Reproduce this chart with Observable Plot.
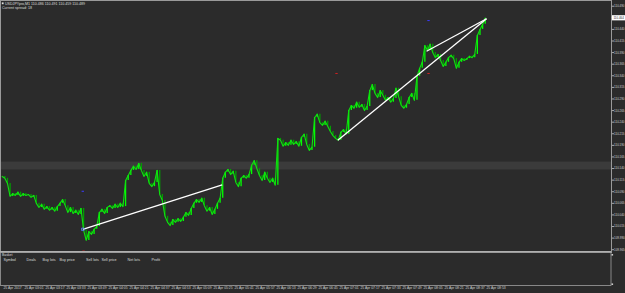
<!DOCTYPE html>
<html><head><meta charset="utf-8">
<script src="https://cdn.jsdelivr.net/npm/d3@7"></script>
<script src="https://cdn.jsdelivr.net/npm/@observablehq/plot@0.6"></script>
<style>
html,body{margin:0;padding:0;background:#2b2b2b;}
#chart{position:relative;width:625px;height:293px;overflow:hidden;background:#2b2b2b;}
</style></head><body><div id="chart"></div>
<script>
// ---- data (USDJPYpro, M1, 25 Apr 2017, sampled every 2 minutes from 02:45) ----
const symbolTitle = "USDJPYpro,M1 110.486 110.491 110.459 110.489";
const spreadText = "Current spread: 18";
const barStepMinutes = 2;
const closes = [
 110.123,110.119,110.108,110.080,110.086,110.082,110.089,110.080,110.086,110.082,
 110.084,110.078,110.082,110.065,110.056,110.063,110.052,110.058,110.050,110.056,
 110.048,110.058,110.065,110.073,110.060,110.045,110.056,110.043,110.050,110.041,
 110.054,110.007,109.985,110.004,109.998,110.009,110.015,110.045,110.052,110.043,
 110.056,110.060,110.054,110.063,110.056,110.065,110.058,110.114,110.125,110.136,
 110.145,110.138,110.151,110.136,110.123,110.132,110.108,110.101,110.110,110.136,
 110.084,110.071,110.037,110.024,110.017,110.030,110.024,110.032,110.026,110.035,
 110.045,110.039,110.054,110.065,110.073,110.067,110.076,110.060,110.048,110.056,
 110.041,110.052,110.065,110.076,110.119,110.132,110.138,110.127,110.134,110.110,
 110.101,110.119,110.125,110.119,110.127,110.147,110.157,110.140,110.125,110.114,
 110.132,110.119,110.110,110.119,110.104,110.205,110.201,110.188,110.196,110.190,
 110.201,110.192,110.198,110.188,110.207,110.214,110.192,110.179,110.186,110.250,
 110.257,110.239,110.233,110.242,110.231,110.220,110.211,110.205,110.201,110.218,
 110.224,110.214,110.265,110.276,110.270,110.283,110.272,110.278,110.265,110.274,
 110.308,110.321,110.302,110.293,110.308,110.298,110.287,110.293,110.283,110.291,
 110.313,110.295,110.276,110.270,110.278,110.293,110.302,110.287,110.339,110.356,
 110.369,110.405,110.395,110.408,110.390,110.379,110.386,110.373,110.360,110.369,
 110.379,110.384,110.377,110.356,110.369,110.377,110.373,110.377,110.382,110.379,
 110.386,110.427,110.440,110.451,110.464
];
const currentPrice = 110.464;
// time axis: minutes after 02:45 and their labels
const timeTickMinutes = [0,16,32,48,64,80,96,112,128,144,160,176,192,208,224,240,256,272,288,304,320,336,352,368];
const timeTickLabels = ["25 Apr 2017","25 Apr 03:01","25 Apr 03:17","25 Apr 03:33","25 Apr 03:49","25 Apr 04:05",
 "25 Apr 04:21","25 Apr 04:37","25 Apr 04:53","25 Apr 05:09","25 Apr 05:25","25 Apr 05:41","25 Apr 05:57",
 "25 Apr 06:13","25 Apr 06:29","25 Apr 06:45","25 Apr 07:01","25 Apr 07:17","25 Apr 07:33","25 Apr 07:49",
 "25 Apr 08:05","25 Apr 08:21","25 Apr 08:37","25 Apr 08:53"];
const priceTicks = [110.490,110.465,110.440,110.415,110.390,110.365,110.340,110.315,110.290,110.265,110.240,
 110.215,110.190,110.165,110.140,110.115,110.090,110.065,110.040,110.015,109.990,109.965];
// trend lines (minute, price)
const trendStartMin = [61.4, 255.7, 323.3];
const trendStartPrice = [110.009, 110.201, 110.393];
const trendEndMin = [167.6, 369, 369];
const trendEndPrice = [110.105, 110.463, 110.463];
// small fractal marks
const markMin = [61.4, 62, 324.8, 324.8, 254.7];
const markPrice = [110.091, 109.962, 110.459, 110.345, 110.345];
const markKind = ["up","down","up","down","down"];
// shaded price zone
const zoneLow = 110.137, zoneHigh = 110.154;
const basketTitle = "Basket";
const basketHeaders = ["Symbol","Deals","Buy lots","Buy price","Sell lots","Sell price","Net lots","Profit"];

// ---- build ----
const bars = closes.map((c, i) => ({m: i * barStepMinutes, close: c}));
const segs = bars.slice(1).map((b, i) => ({m: b.m, lo: Math.min(b.close, bars[i].close), hi: Math.max(b.close, bars[i].close), up: b.close >= bars[i].close}));
const trends = trendStartMin.map((m, i) => ({x1: m, y1: trendStartPrice[i], x2: trendEndMin[i], y2: trendEndPrice[i]}));
const marks = markMin.map((m, i) => ({m, p: markPrice[i], kind: markKind[i]}));
const xDomain = [-1.3, 464.2];
const yDomain = [109.959, 110.5023];
const FS = 3.4;
const AFS = 2.95;
const FONT = "Liberation Sans, Arial, sans-serif";
// the white current-price box hides the tick label right beneath it
const hiddenTick = priceTicks.find(t => Math.abs(t - currentPrice) < 0.005);

const plot = Plot.plot({
  width: 625, height: 293,
  marginLeft: 0, marginRight: 14, marginTop: 0, marginBottom: 41,
  x: {domain: xDomain, axis: null},
  y: {domain: yDomain, axis: null},
  style: {background: "#2b2b2b", color: "#cfcfcf", fontFamily: FONT, fontSize: FS + "px"},
  marks: [
    Plot.rect([0], {x1: xDomain[0], x2: xDomain[1], y1: zoneLow, y2: zoneHigh, fill: "#3b3b3b"}),
    Plot.ruleX(segs, {x: "m", y1: "lo", y2: "hi", stroke: d => d.up ? "#00ff00" : "#00a000", strokeWidth: 1.3}),
    Plot.line(bars, {x: "m", y: "close", stroke: "#10e010", strokeWidth: 1.1}),
    Plot.link(trends, {x1: "x1", y1: "y1", x2: "x2", y2: "y2", stroke: "#ffffff", strokeWidth: 1.3}),
    Plot.link(marks, {x1: d => d.m - 0.9, x2: d => d.m + 0.9, y1: "p", y2: "p", stroke: d => d.kind === "up" ? "#3a3aff" : "#d02020", strokeWidth: 1}),
    Plot.dot([trends[0]], {x: "x1", y: "y1", symbol: "square", r: 1.4, stroke: "#5a7cff", strokeWidth: 0.8, fill: "none"}),
    Plot.frame({stroke: "#9a9a9a", strokeWidth: 1}),
    Plot.axisY(priceTicks.filter(t => t !== hiddenTick), {anchor: "right", tickSize: 2, tickPadding: 0.6, tickFormat: d => d.toFixed(3), fontSize: AFS, fill: "#cfcfcf", stroke: "#aaaaaa", label: null}),
    Plot.tickX(timeTickMinutes, {x: d => d, insetTop: 248.5, dy: 34, stroke: "#aaaaaa"}),
    Plot.axisX(timeTickMinutes, {anchor: "bottom", tickSize: 0, tickPadding: 34, textAnchor: "start", dx: 1.2, fontSize: FS, fill: "#cfcfcf",
      tickFormat: d => timeTickLabels[timeTickMinutes.indexOf(d)], label: null})
  ]
});

const svg = d3.select(plot);
const ys = plot.scale("y"), xs = plot.scale("x");
const xr = xs.apply(xDomain[1]);
const addText = (sel, x, y, size, fill, txt) => sel.append("text").attr("x", x).attr("y", y)
  .attr("font-size", size).attr("fill", fill).attr("text-anchor", "start").text(txt);
// current price label
const cy = ys.apply(currentPrice);
svg.append("line").attr("x1", xr).attr("x2", xr + 2).attr("y1", ys.apply(hiddenTick)).attr("y2", ys.apply(hiddenTick)).attr("stroke", "#aaaaaa");
svg.append("rect").attr("x", xr + 1).attr("y", cy - 2.6).attr("width", 14).attr("height", 5.2).attr("fill", "#ffffff");
addText(svg, xr + 2.4, cy + 1.05, AFS, "#303030", currentPrice.toFixed(3));
// title lines
svg.append("rect").attr("x", 1.8).attr("y", 2.4).attr("width", 1.8).attr("height", 1.8).attr("fill", "#e0e0e0");
addText(svg, 5, 4.6, FS + 0.2, "#dddddd", symbolTitle);
addText(svg, 2, 8.8, FS + 0.2, "#dddddd", spreadText);
// basket panel
const g = svg.append("g");
g.append("rect").attr("x", 0.5).attr("y", 252.5).attr("width", xr - 0.5).attr("height", 33).attr("fill", "#2b2b2b").attr("stroke", "#a0a0a0").attr("stroke-width", 0.8);
g.append("line").attr("x1", 0).attr("x2", xr).attr("y1", 251.6).attr("y2", 251.6).attr("stroke", "#b0b0b0").attr("stroke-width", 1.2);
addText(g, 2, 256.3, FS, "#dddddd", basketTitle);
const headerX = [3.5, 26.5, 42.5, 59.5, 86, 101.5, 127.5, 151.5];
basketHeaders.forEach((h, i) => addText(g, headerX[i], 261, FS + 0.3, "#dddddd", h));
g.append("rect").attr("x", xr + 0.5).attr("y", 254).attr("width", 1.6).attr("height", 1.6).attr("fill", "#cccccc");
g.append("rect").attr("x", xr + 0.5).attr("y", 283.4).attr("width", 1.6).attr("height", 1.6).attr("fill", "#cccccc");
document.getElementById("chart").appendChild(plot);
</script></body></html>
